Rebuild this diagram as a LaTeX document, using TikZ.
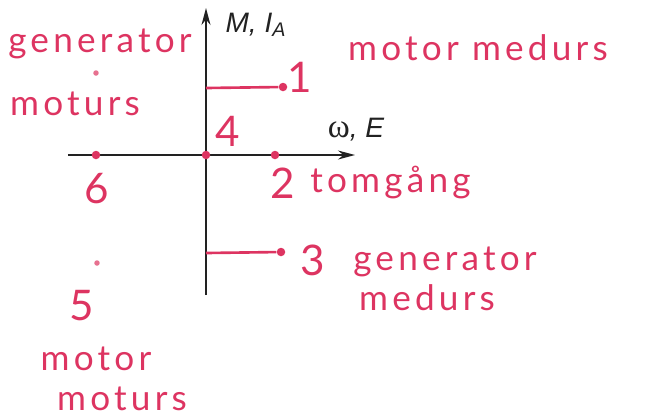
\documentclass[tikz,border=0pt]{standalone}
\usepackage{fontspec}
\setsansfont{Liberation Sans}
\newfontfamily\handfont[LetterSpace=12]{Lato}
\newfontfamily\greekfont{Liberation Serif}
\usetikzlibrary{arrows.meta, positioning}
\definecolor{penred}{HTML}{DD3461}
\definecolor{axisblack}{HTML}{222222}

\begin{document}
\begin{tikzpicture}[
  every node/.style={font=\small},
  handtext/.style={text=penred, font=\handfont\fontsize{20}{22}\selectfont, inner sep=0pt, anchor=base},
  handdigit/.style={text=penred, font=\handfont\fontsize{24}{26}\selectfont, inner sep=0pt, anchor=base},
  axislabel/.style={text=axisblack, font=\sffamily\itshape\fontsize{16}{18}\selectfont, inner sep=0pt},
  axisline/.style={draw=axisblack, line width=0.8pt, -{Stealth[length=3.4mm, width=1.8mm]}},
  penline/.style={draw=penred, line width=1.5pt},
  pendot/.style={circle, fill=penred, inner sep=0pt, minimum size=1.7mm},
  smalldot/.style={circle, fill=penred!70, inner sep=0pt, minimum size=1.1mm},
]
\useasboundingbox (-4.12,-5.26) rectangle (8.94,3.10);

% Axes
\coordinate (xstart) at (-2.76,0);
\coordinate (xend) at (2.98,0);
\coordinate (ystart) at (0,-2.8);
\coordinate (yend) at (0,2.94);
\draw[axisline] (xstart) -- (xend);
\draw[axisline] (ystart) -- (yend);
\node[axislabel] (ylab) at (1.0,2.6) {M, I\textsubscript{A}};
\node[axislabel] (xlab) at (3.0,0.5) {{\greekfont\upshape\fontsize{19}{20}\selectfont ω}, E};

% Operating points
\node[pendot] (p4) at (0,0) {};
\node[pendot] (p2) at (1.38,0) {};
\node[pendot] (p6) at (-2.2,0) {};
\coordinate (a1) at (0,1.34);
\node[pendot] (p1) at (1.54,1.36) {};
\coordinate (a3) at (0,-1.96);
\node[pendot] (p3) at (1.5,-1.94) {};
\draw[penline] (a1) -- (p1);
\draw[penline] (a3) -- (p3);
\node[smalldot] (d6) at (-2.2,1.64) {};
\node[smalldot] (p5) at (-2.18,-2.16) {};

% Numbers
\node[handdigit] (n1) at (1.88,1.26) {1};
\node[handdigit] (n4) at (0.44,0.18) {4};
\node[handdigit] (n2) at (1.54,-0.86) {2};
\node[handdigit] (n6) at (-2.18,-0.96) {6};
\node[handdigit] (n3) at (2.14,-2.4) {3};
\node[handdigit] (n5) at (-2.48,-3.3) {5};

% Quadrant notes
\node[handtext] (q1) at (5.44,1.9) {motor medurs};
\node[handtext, anchor=base west] (q2) at (2.08,-0.74) {tomgång};
\node[handtext] (q3a) at (4.78,-2.3) {generator};
\node[handtext] (q3b) at (4.42,-3.1) {medurs};
\node[handtext] (q6a) at (-2.12,2.06) {generator};
\node[handtext] (q6b) at (-2.62,0.8) {moturs};
\node[handtext] (q5a) at (-2.2,-4.3) {motor};
\node[handtext] (q5b) at (-1.68,-5.1) {moturs};

\end{tikzpicture}
\end{document}
